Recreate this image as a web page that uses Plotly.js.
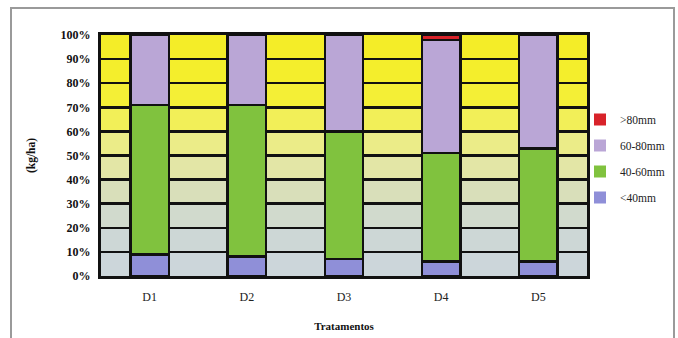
<!DOCTYPE html>
<html>
<head>
<meta charset="utf-8">
<script src="https://cdn.plot.ly/plotly-3.0.1.min.js"></script>
<style>html,body{margin:0;padding:0;background:#fff;}#chart{width:678px;height:338px;}</style>
</head>
<body>
<div id="chart"></div>
<script>
const categories = ['D1', 'D2', 'D3', 'D4', 'D5'];
const lt40 = [9, 8, 7, 6, 6];
const mm40_60 = [62, 63, 53, 45, 47];
const mm60_80 = [29, 29, 40, 47, 47];
const gt80 = [0, 0, 0, 2, 0];
const seriesNames = ['<40mm', '40-60mm', '60-80mm', '>80mm'];
const yTicks = [0, 10, 20, 30, 40, 50, 60, 70, 80, 90, 100];
const yTickText = yTicks.map(v => v + '%');

const colors = ['#8f8fd8', '#80c23e', '#baa6d6', '#d8232a'];
const bandColors = ['#ccd6da', '#cdd7d6', '#d1dacd', '#d9dfba', '#e3e6a6', '#ebec88', '#f2ef58', '#f4ef36', '#f4ee2c', '#f4ed28'];
const seriesData = [lt40, mm40_60, mm60_80, gt80];

const traces = [];
seriesData.forEach((vals, i) => {
  traces.push({
    type: 'bar', x: categories, y: vals, name: seriesNames[i],
    marker: {color: colors[i], line: {color: '#111', width: 2.5}},
    showlegend: false, hoverinfo: 'skip'
  });
});
for (let i = seriesData.length - 1; i >= 0; i--) {
  traces.push({
    type: 'bar', x: [categories[0]], y: [null], name: seriesNames[i],
    marker: {color: colors[i], line: {width: 0}},
    showlegend: true, legendgroup: 'g' + i
  });
}

const W = 678, H = 338, L = 101, T = 35, B = 62;
const plotRight = 587;
const paperW = W - L;
const paperH = H - T - B;
const shapes = [];
for (let k = 0; k < yTicks.length - 1; k++) {
  shapes.push({type: 'rect', layer: 'below', xref: 'x domain', yref: 'y',
    x0: 0, x1: 1, y0: yTicks[k], y1: yTicks[k + 1],
    fillcolor: bandColors[k], line: {width: 0}});
}
shapes.push({type: 'rect', xref: 'paper', yref: 'paper', layer: 'below',
  x0: (11 - L) / paperW, x1: (674 - L) / paperW, y0: -0.4, y1: (H - B - 8) / paperH,
  fillcolor: 'rgba(0,0,0,0)', line: {color: '#9a9a9a', width: 2}});

const layout = {
  width: W, height: H,
  margin: {l: L, r: 0, t: T, b: B},
  paper_bgcolor: '#ffffff', plot_bgcolor: '#d0d8d8',
  barmode: 'stack', barnorm: 'percent', bargap: 0.605,
  font: {family: 'Liberation Serif, serif', color: '#111'},
  xaxis: {
    domain: [0, (plotRight - L) / paperW],
    type: 'category', showgrid: false, zeroline: false,
    showline: true, linecolor: '#111', linewidth: 3, mirror: true,
    ticks: 'outside', ticklen: 8, tickcolor: 'rgba(0,0,0,0)',
    tickfont: {family: 'Liberation Serif, serif', size: 12, color: '#222'},
    title: {text: 'Tratamentos', font: {family: 'Liberation Serif, serif', size: 11, color: '#111', weight: 'bold'}, standoff: 19}
  },
  yaxis: {
    range: [0, 100], tickvals: yTicks, ticktext: yTickText,
    showgrid: true, gridcolor: '#111', gridwidth: 2.5, zeroline: false,
    showline: true, linecolor: '#111', linewidth: 3, mirror: true,
    ticks: 'outside', ticklen: 5, tickcolor: 'rgba(0,0,0,0)',
    tickfont: {family: 'Liberation Serif, serif', size: 12, color: '#111', weight: 'bold'},
    title: {text: '(kg/ha)', font: {family: 'Liberation Serif, serif', size: 11.5, color: '#111', weight: 'bold'}, standoff: 23}
  },
  legend: {
    x: (580 - L) / paperW, xanchor: 'left', y: (H - B - 105) / paperH, yanchor: 'top',
    traceorder: 'grouped', tracegroupgap: 7,
    font: {family: 'Liberation Serif, serif', size: 11.5, color: '#222'},
    bgcolor: 'rgba(0,0,0,0)', itemwidth: 30
  },
  shapes: shapes
};

Plotly.newPlot('chart', traces, layout, {staticPlot: true, displayModeBar: false});
</script>
</body>
</html>
